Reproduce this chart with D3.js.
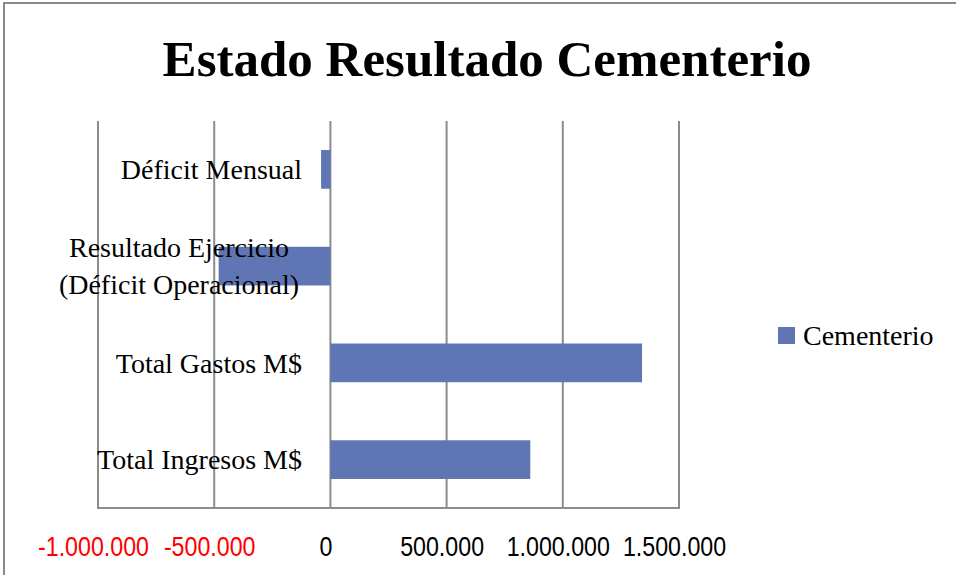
<!DOCTYPE html>
<html>
<head>
<meta charset="utf-8">
<script src="https://cdn.jsdelivr.net/npm/d3@7"></script>
<style>
  body { margin: 0; background: #fff; }
  svg { display: block; }
</style>
</head>
<body>
<div id="chart"></div>
<script>
// Data
const categories = ['Déficit Mensual', 'Resultado Ejercicio\n(Déficit Operacional)', 'Total Gastos M$', 'Total Ingresos M$']
const values = [-40083, -481000, 1341000, 860000]
const tickValues = [-1000000, -500000, 0, 500000, 1000000, 1500000]
const tickLabels = ['-1.000.000', '-500.000', '0', '500.000', '1.000.000', '1.500.000']
const seriesName = 'Cementerio'

const dataset = categories.map((c, i) => ({ cat: c, value: values[i] }))

// Dimensions
const width = 956, height = 575
const plot = { left: 98, right: 679, top: 121, bottom: 508 }
const serif = "'Palatino Linotype', 'Book Antiqua', Palatino, 'Liberation Serif', serif"

const svg = d3.select('#chart')
  .append('svg')
  .attr('width', width)
  .attr('height', height)

// outer frame
svg.append('rect')
  .attr('x', 4).attr('y', 3)
  .attr('width', width + 20).attr('height', height + 20)
  .attr('fill', 'none')
  .attr('stroke', '#898989')
  .attr('stroke-width', 2)

// Scales
const xScale = d3.scaleLinear()
  .domain([-1000000, 1500000])
  .range([plot.left, plot.right])

const yScale = d3.scaleBand()
  .domain(categories)
  .range([plot.top, plot.bottom])
  .paddingInner(0.6)
  .paddingOuter(0.3)

// Title
svg.append('text')
  .attr('x', 487)
  .attr('y', 76)
  .attr('text-anchor', 'middle')
  .style('font-family', serif)
  .style('font-weight', 'bold')
  .style('font-size', '51px')
  .text('Estado Resultado Cementerio')

// Gridlines
svg.append('g')
  .selectAll('line')
  .data(tickValues)
  .join('line')
  .attr('x1', d => xScale(d)).attr('x2', d => xScale(d))
  .attr('y1', plot.top).attr('y2', plot.bottom)
  .attr('stroke', '#8c8c8c')
  .attr('stroke-width', 2)

svg.append('line')
  .attr('x1', plot.left - 1).attr('x2', plot.right + 1)
  .attr('y1', plot.bottom).attr('y2', plot.bottom)
  .attr('stroke', '#8c8c8c')
  .attr('stroke-width', 2)

// Bars
svg.append('g')
  .selectAll('rect')
  .data(dataset)
  .join('rect')
  .attr('x', d => xScale(Math.min(0, d.value)))
  .attr('width', d => Math.abs(xScale(d.value) - xScale(0)))
  .attr('y', d => yScale(d.cat))
  .attr('height', yScale.bandwidth())
  .attr('fill', '#6076b4')

// Category labels
const catLabels = svg.append('g')
  .selectAll('text')
  .data(categories)
  .join('text')
  .attr('y', d => yScale(d) + yScale.bandwidth() / 2)
  .style('font-family', serif)
  .style('font-size', '28px')
  .attr('fill', '#000')

catLabels.each(function(d) {
  const lines = d.split('\n')
  const t = d3.select(this)
  const lh = 37
  if (lines.length === 1) {
    t.attr('x', 302).attr('text-anchor', 'end').attr('dy', '0.35em').text(d)
  } else {
    t.attr('text-anchor', 'middle').attr('x', 179)
    lines.forEach((ln, i) => {
      t.append('tspan')
        .attr('x', 179)
        .attr('y', yScale(d) + yScale.bandwidth() / 2 + (i - (lines.length - 1) / 2) * lh)
        .attr('dy', '0.35em')
        .text(ln)
    })
  }
})

// X axis labels
const xAxis = d3.axisBottom(xScale)
  .tickValues(tickValues)
  .tickFormat((d, i) => tickLabels[i])
  .tickSize(0)

const xAxisGroup = svg.append('g')
  .attr('transform', `translate(-5, ${plot.bottom + 26})`)
  .call(xAxis)
xAxisGroup.select('.domain').remove()
xAxisGroup.selectAll('text')
  .style('font-family', "'Liberation Sans Narrow', 'Arial Narrow', 'Liberation Sans', sans-serif")
  .style('font-size', '27px')
  .attr('transform', 'scale(0.86,1)')
  .attr('fill', d => d < 0 ? '#ff0000' : '#000')

// Legend
const legend = svg.append('g').attr('transform', 'translate(778, 327)')
legend.append('rect')
  .attr('width', 17).attr('height', 17)
  .attr('fill', '#6076b4')
legend.append('text')
  .attr('x', 25).attr('y', 8.5)
  .attr('dy', '0.35em')
  .style('font-family', serif)
  .style('font-size', '28px')
  .text(seriesName)
</script>
</body>
</html>
